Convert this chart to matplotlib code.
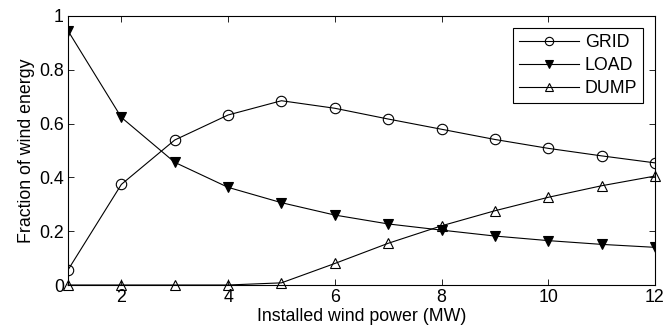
import matplotlib
matplotlib.use("Agg")
import matplotlib.pyplot as plt

plt.rcParams['font.family'] = ['Liberation Sans', 'DejaVu Sans']

x = [1, 2, 3, 4, 5, 6, 7, 8, 9, 10, 11, 12]
grid = [0.056, 0.374, 0.539, 0.632, 0.685, 0.657, 0.617, 0.579, 0.541, 0.508, 0.480, 0.454]
load = [0.945, 0.623, 0.456, 0.363, 0.306, 0.260, 0.227, 0.204, 0.182, 0.165, 0.151, 0.140]
dump = [0.0, 0.0, 0.0, 0.0, 0.008, 0.080, 0.155, 0.220, 0.276, 0.326, 0.369, 0.405]
xticks = [2, 4, 6, 8, 10, 12]
yticks = [0, 0.2, 0.4, 0.6, 0.8, 1]
ytick_labels = ['0', '0.2', '0.4', '0.6', '0.8', '1']

fs = 12.8
fig = plt.figure(figsize=(6.67, 3.36), dpi=100)
ax = fig.add_axes([68/667, 1-285/336, (655-68)/667, (285-16)/336])

ax.plot(x, grid, '-o', color='black', lw=0.8, ms=7.5, mfc='none', mew=0.8, label='GRID')
ax.plot(x, load, '-v', color='black', lw=0.8, ms=7.5, mfc='black', mew=0.8, label='LOAD')
ax.plot(x, dump, '-^', color='black', lw=0.8, ms=7.5, mfc='none', mew=0.8, label='DUMP', clip_on=False)

ax.set_xlim(1, 12)
ax.set_ylim(0, 1)
ax.set_xticks(xticks)
ax.set_yticks(yticks)
ax.set_yticklabels(ytick_labels)
ax.tick_params(direction='in', top=True, right=True, labelsize=fs, length=4, width=0.6, pad=3)
for s in ax.spines.values():
    s.set_linewidth(0.8)
ax.set_xlabel('Installed wind power (MW)', fontsize=fs, labelpad=1)
ax.set_ylabel('Fraction of wind energy', fontsize=fs, labelpad=3)

leg = ax.legend(loc='upper right', fontsize=fs, frameon=True, fancybox=False,
                edgecolor='black', framealpha=1, handlelength=3.4, borderpad=0.35,
                labelspacing=0.35, handletextpad=0.3, borderaxespad=0.65, markerscale=0.8)
leg.get_frame().set_linewidth(0.8)

fig.savefig('out.png', dpi=100)
